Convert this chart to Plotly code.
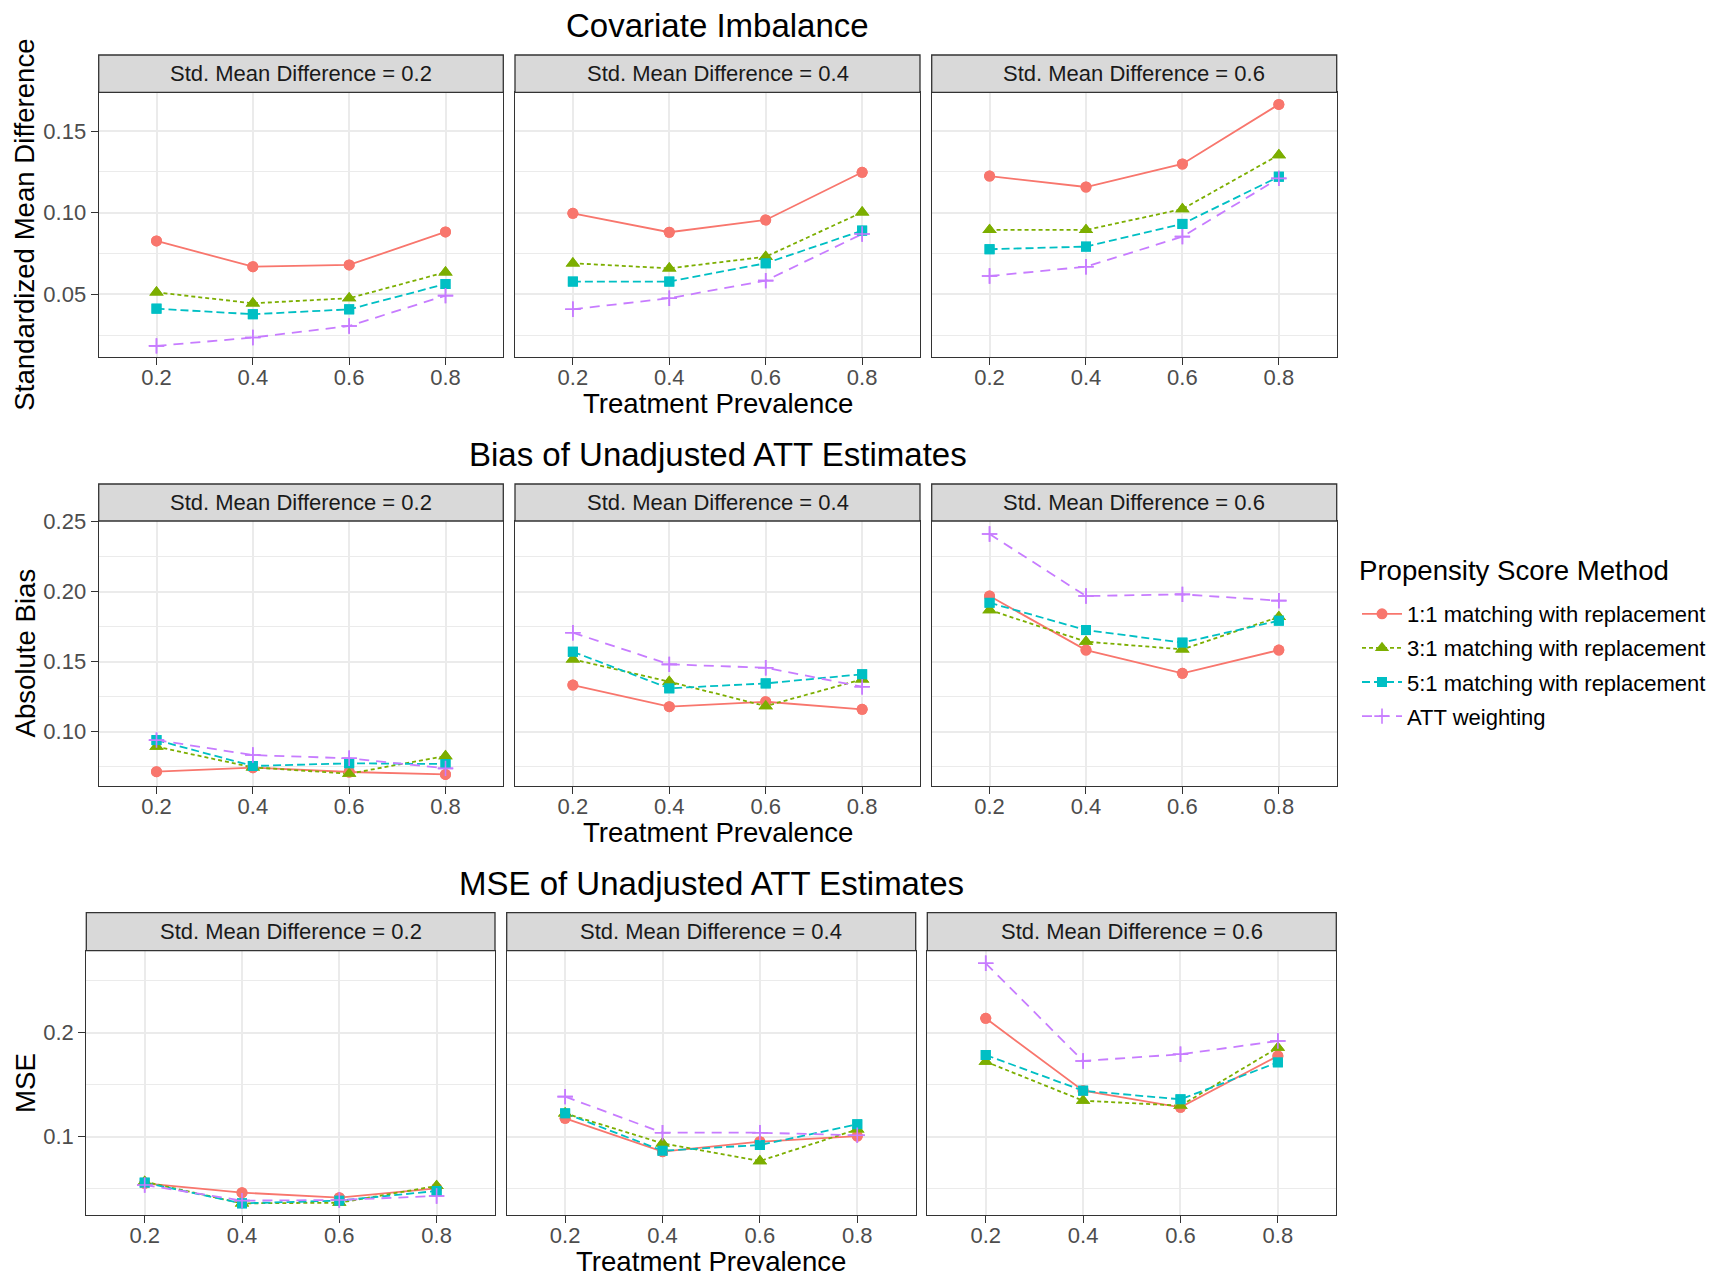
import plotly.graph_objects as go

# ---------------- data ----------------
x_levels = [0.2, 0.4, 0.6, 0.8]
x_tick_labels = ["0.2", "0.4", "0.6", "0.8"]
smd_levels = ["0.2", "0.4", "0.6"]
methods = ["1:1 matching with replacement", "3:1 matching with replacement",
           "5:1 matching with replacement", "ATT weighting"]
row_titles = ["Covariate Imbalance", "Bias of Unadjusted ATT Estimates",
              "MSE of Unadjusted ATT Estimates"]
row_ylabels = ["Standardized Mean Difference", "Absolute Bias", "MSE"]
x_title = "Treatment Prevalence"
legend_title = "Propensity Score Method"

# Covariate imbalance (rows: SMD 0.2, 0.4, 0.6; cols: prevalence 0.2..0.8)
smd_11 = [[0.0827, 0.0669, 0.0680, 0.0882], [0.0996, 0.0880, 0.0955, 0.1247], [0.1224, 0.1157, 0.1298, 0.1663]]
smd_31 = [[0.0512, 0.0445, 0.0476, 0.0635], [0.0690, 0.0659, 0.0730, 0.1002], [0.0894, 0.0894, 0.1022, 0.1353]]
smd_51 = [[0.0412, 0.0378, 0.0408, 0.0563], [0.0578, 0.0578, 0.0690, 0.0890], [0.0776, 0.0792, 0.0931, 0.1220]]
smd_att = [[0.0184, 0.0235, 0.0306, 0.0492], [0.0408, 0.0476, 0.0584, 0.0869], [0.0612, 0.0669, 0.0853, 0.1210]]

# Absolute bias
bias_11 = [[0.0714, 0.0743, 0.0712, 0.0695], [0.1333, 0.1179, 0.1214, 0.1160], [0.1969, 0.1583, 0.1417, 0.1583]]
bias_31 = [[0.0893, 0.0745, 0.0700, 0.0826], [0.1517, 0.1357, 0.1183, 0.1374], [0.1869, 0.1643, 0.1588, 0.1820]]
bias_51 = [[0.0940, 0.0755, 0.0774, 0.0769], [0.1571, 0.1310, 0.1345, 0.1410], [0.1921, 0.1726, 0.1636, 0.1793]]
bias_att = [[0.0940, 0.0833, 0.0810, 0.0738], [0.1707, 0.1481, 0.1457, 0.1321], [0.2412, 0.1969, 0.1981, 0.1936]]

# MSE
mse_11 = [[0.0551, 0.0462, 0.0413, 0.0503], [0.1176, 0.0856, 0.0952, 0.1006], [0.2138, 0.1442, 0.1282, 0.1776]]
mse_31 = [[0.0567, 0.0359, 0.0365, 0.0526], [0.1224, 0.0936, 0.0766, 0.1070], [0.1721, 0.1346, 0.1298, 0.1856]]
mse_51 = [[0.0558, 0.0359, 0.0385, 0.0478], [0.1224, 0.0865, 0.0920, 0.1119], [0.1785, 0.1442, 0.1359, 0.1715]]
mse_att = [[0.0535, 0.0385, 0.0391, 0.0430], [0.1385, 0.1038, 0.1038, 0.1013], [0.2667, 0.1728, 0.1792, 0.1920]]

y_tickvals = [[0.05, 0.10, 0.15], [0.10, 0.15, 0.20, 0.25], [0.1, 0.2]]
y_ticktext = [["0.05", "0.10", "0.15"], ["0.10", "0.15", "0.20", "0.25"], ["0.1", "0.2"]]

rows_data = [
    [smd_11, smd_31, smd_51, smd_att],
    [bias_11, bias_31, bias_51, bias_att],
    [mse_11, mse_31, mse_51, mse_att],
]

# ---------------- layout geometry (pixels) ----------------
W, H = 1718, 1275
FONT = "Liberation Sans, Arial, Helvetica, sans-serif"
row_xdom = [
    [(98.7, 503.3), (515, 920), (931.7, 1336.7)],
    [(98.7, 503.3), (515, 920), (931.7, 1336.7)],
    [(86.3, 495), (506.7, 915.7), (927.3, 1336.3)],
]
row_ydom = [(92.3, 357), (521, 786), (950.7, 1215.3)]
strip_top = [55, 484, 912.7]
y_ranges = [[0.0116, 0.1737], [0.0612, 0.2505], [0.0244, 0.2788]]
x_range = [0.08, 0.92]
title_y = [26, 454, 883]
xtitle_y = [403, 832, 1261]

styles = [
    dict(color="#F8766D", symbol="circle", size=11, dash="solid", mlw=0),
    dict(color="#7CAE00", symbol="triangle-up", size=12.5, dash="4px,3px", mlw=0),
    dict(color="#00BFC4", symbol="square", size=10, dash="8px,4px", mlw=0),
    dict(color="#C77CFF", symbol="cross-thin", size=11, dash="10px,7px", mlw=1.6),
]


def px_x(p):
    return p / W


def px_y(p):
    return 1 - p / H


def minor_vals(vals):
    step = vals[1] - vals[0]
    out = [vals[0] - step / 2]
    for a, b in zip(vals[:-1], vals[1:]):
        out.append((a + b) / 2)
    out.append(vals[-1] + step / 2)
    return out


fig = go.Figure()
layout = dict(
    width=W, height=H,
    margin=dict(l=0, r=0, t=0, b=0, pad=0, autoexpand=False),
    paper_bgcolor="white", plot_bgcolor="white",
    font=dict(family=FONT, color="#1A1A1A"),
    showlegend=True,
)
shapes = []
annotations = []

k = 0
for r in range(3):
    for c in range(3):
        k += 1
        xa = "x" if k == 1 else f"x{k}"
        ya = "y" if k == 1 else f"y{k}"
        xd = row_xdom[r][c]
        yd = row_ydom[r]
        layout["xaxis" if k == 1 else f"xaxis{k}"] = dict(
            domain=[px_x(xd[0]), px_x(xd[1])], anchor=ya, range=x_range,
            tickvals=x_levels, ticktext=x_tick_labels,
            showgrid=True, gridcolor="#EBEBEB", gridwidth=1.6, zeroline=False,
            showline=True, mirror=True, linecolor="#333333", linewidth=1.3,
            ticks="outside", ticklen=7, tickwidth=1.2, tickcolor="#333333",
            ticklabelstandoff=-7,
            tickfont=dict(size=22, color="#4D4D4D", family=FONT),
            fixedrange=True,
        )
        ydict = dict(
            domain=[px_y(yd[1]), px_y(yd[0])], anchor=xa, range=y_ranges[r],
            tickvals=y_tickvals[r], ticktext=y_ticktext[r],
            showgrid=True, gridcolor="#EBEBEB", gridwidth=1.6, zeroline=False,
            showline=True, mirror=True, linecolor="#333333", linewidth=1.3,
            minor=dict(tickvals=minor_vals(y_tickvals[r]), showgrid=True,
                       gridcolor="#EBEBEB", gridwidth=0.9, ticks=""),
            tickfont=dict(size=22, color="#4D4D4D", family=FONT),
            fixedrange=True,
        )
        if c == 0:
            ydict.update(ticks="outside", ticklen=7, tickwidth=1.2, tickcolor="#333333",
                         showticklabels=True)
        else:
            ydict.update(ticks="", showticklabels=False)
        layout["yaxis" if k == 1 else f"yaxis{k}"] = ydict

        # strip
        shapes.append(dict(type="rect", xref="paper", yref="paper",
                           x0=px_x(xd[0]), x1=px_x(xd[1]),
                           y0=px_y(yd[0]), y1=px_y(strip_top[r]),
                           fillcolor="#D9D9D9", line=dict(color="#333333", width=1.3),
                           layer="above"))
        annotations.append(dict(xref="paper", yref="paper",
                                x=px_x((xd[0] + xd[1]) / 2),
                                y=px_y((yd[0] + strip_top[r]) / 2),
                                text=f"Std. Mean Difference = {smd_levels[c]}",
                                showarrow=False, xanchor="center", yanchor="middle",
                                font=dict(size=22, color="#1A1A1A", family=FONT)))

        # lines (with legend on first panel)
        for m in range(4):
            s = styles[m]
            fig.add_trace(go.Scatter(
                x=x_levels, y=rows_data[r][m][c], mode="lines+markers",
                name=methods[m], legendgroup=methods[m], showlegend=(k == 1),
                xaxis=xa, yaxis=ya,
                line=dict(color=s["color"], width=1.8, dash=s["dash"]),
                marker=dict(symbol=s["symbol"], size=s["size"], color=s["color"],
                            line=dict(width=s["mlw"], color=s["color"])),
                cliponaxis=False,
            ))
        # points on top of all lines
        for m in range(4):
            s = styles[m]
            fig.add_trace(go.Scatter(
                x=x_levels, y=rows_data[r][m][c], mode="markers",
                name=methods[m], legendgroup=methods[m], showlegend=False,
                xaxis=xa, yaxis=ya,
                marker=dict(symbol=s["symbol"], size=s["size"], color=s["color"],
                            line=dict(width=s["mlw"], color=s["color"])),
                cliponaxis=False,
            ))

    # row titles
    xs = row_xdom[r]
    cx = (xs[0][0] + xs[2][1]) / 2
    annotations.append(dict(xref="paper", yref="paper", x=px_x(cx), y=px_y(title_y[r]),
                            text=row_titles[r], showarrow=False, xanchor="center",
                            yanchor="middle", font=dict(size=33, color="black", family=FONT)))
    annotations.append(dict(xref="paper", yref="paper", x=px_x(cx), y=px_y(xtitle_y[r]),
                            text=x_title, showarrow=False, xanchor="center",
                            yanchor="middle", height=26, valign="middle",
                            font=dict(size=27.6, color="black", family=FONT)))
    yd = row_ydom[r]
    annotations.append(dict(xref="paper", yref="paper", x=px_x(25), y=px_y((yd[0] + yd[1]) / 2),
                            text=row_ylabels[r], showarrow=False, xanchor="center",
                            yanchor="middle", textangle=-90,
                            font=dict(size=27.6, color="black", family=FONT)))

# legend title
annotations.append(dict(xref="paper", yref="paper", x=px_x(1357), y=px_y(570),
                        text=legend_title, showarrow=False, xanchor="left",
                        yanchor="middle", font=dict(size=27.6, color="black", family=FONT)))

layout["shapes"] = shapes
layout["annotations"] = annotations
layout["legend"] = dict(
    x=px_x(1357), y=px_y(593), xanchor="left", yanchor="top",
    font=dict(size=22, color="black", family=FONT),
    bgcolor="rgba(0,0,0,0)", tracegroupgap=2.5, itemwidth=40, borderwidth=0,
)
fig.update_layout(**layout)
fig.write_html("out.html", config={"displayModeBar": False},
               post_script="document.body.style.margin='0px';")
